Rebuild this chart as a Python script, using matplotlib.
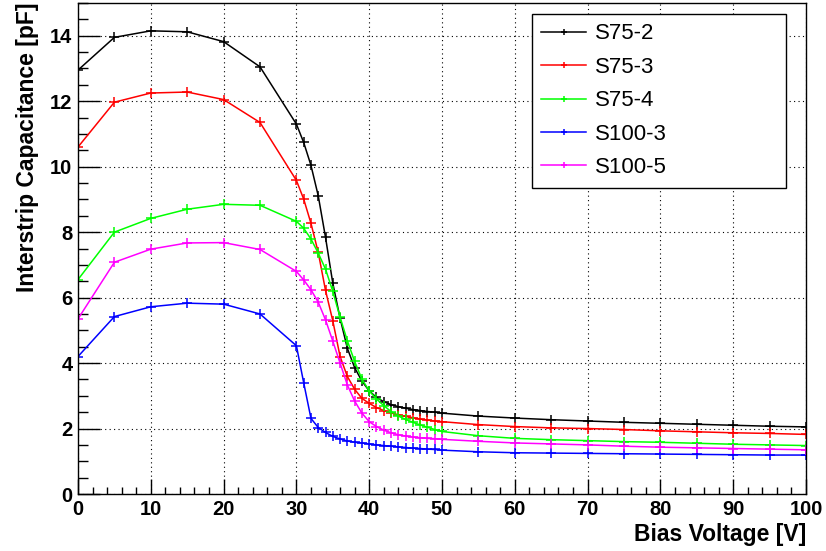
import numpy as np
import matplotlib
matplotlib.use('Agg')
import matplotlib.pyplot as plt
from matplotlib.ticker import MultipleLocator

plt.rcParams['font.family'] = ['Liberation Sans', 'DejaVu Sans']

# bias voltage points [V]
volts = [0, 5, 10, 15, 20, 25, 30, 31, 32, 33, 34, 35, 36, 37, 38, 39, 40,
         41, 42, 43, 44, 45, 46, 47, 48, 49, 50,
         55, 60, 65, 70, 75, 80, 85, 90, 95, 100]

s75_2 = [12.95, 13.95, 14.15, 14.12, 13.82, 13.05, 11.3, 10.74, 10.04, 9.11, 7.84, 6.44,
         5.37, 4.45, 3.86, 3.45, 3.15, 2.95, 2.82, 2.73, 2.67, 2.62, 2.58, 2.55, 2.52, 2.50,
         2.47, 2.38, 2.32, 2.27, 2.23, 2.19, 2.16, 2.13, 2.10, 2.07, 2.05]
s75_3 = [10.6, 11.97, 12.25, 12.28, 12.05, 11.35, 9.58, 9.01, 8.27, 7.38, 6.22, 5.29,
         4.20, 3.59, 3.20, 2.92, 2.77, 2.64, 2.55, 2.48, 2.42, 2.37, 2.33, 2.29, 2.26, 2.23,
         2.21, 2.12, 2.06, 2.02, 2.00, 1.97, 1.93, 1.90, 1.87, 1.85, 1.82]
s75_4 = [6.55, 8.0, 8.42, 8.7, 8.85, 8.82, 8.33, 8.12, 7.79, 7.36, 6.87, 6.19,
         5.40, 4.68, 4.05, 3.51, 3.15, 2.90, 2.70, 2.52, 2.38, 2.28, 2.19, 2.11, 2.04, 1.97,
         1.91, 1.78, 1.70, 1.66, 1.63, 1.60, 1.58, 1.55, 1.52, 1.50, 1.48]
s100_3 = [4.2, 5.42, 5.72, 5.83, 5.80, 5.50, 4.53, 3.40, 2.31, 2.03, 1.88, 1.76,
          1.68, 1.62, 1.58, 1.56, 1.53, 1.50, 1.48, 1.46, 1.44, 1.42, 1.40, 1.39, 1.37, 1.36,
          1.34, 1.29, 1.26, 1.25, 1.24, 1.23, 1.22, 1.21, 1.20, 1.19, 1.19]
s100_5 = [5.35, 7.08, 7.48, 7.67, 7.68, 7.47, 6.80, 6.54, 6.24, 5.86, 5.32, 4.67,
          4.00, 3.33, 2.84, 2.47, 2.21, 2.06, 1.95, 1.87, 1.81, 1.77, 1.74, 1.72, 1.70, 1.69,
          1.67, 1.61, 1.56, 1.53, 1.50, 1.46, 1.43, 1.41, 1.39, 1.37, 1.35]

labels = ['S75-2', 'S75-3', 'S75-4', 'S100-3', 'S100-5']
colors = ['#000000', '#ff0000', '#00ff00', '#0000ff', '#ff00ff']
series = [s75_2, s75_3, s75_4, s100_3, s100_5]

fig = plt.figure(figsize=(8.26, 5.51), dpi=100)
ax = fig.add_axes([78/826, 57/551, 728/826, 491/551])

for y, c, lab in zip(series, colors, labels):
    ax.plot(volts, y, color=c, lw=1.1, marker='+', ms=6.5, mew=1.1, label=lab)

ax.set_xlim(0, 100)
ax.set_ylim(0, 15)
ax.xaxis.set_major_locator(MultipleLocator(10))
ax.xaxis.set_minor_locator(MultipleLocator(2))
ax.yaxis.set_major_locator(MultipleLocator(2))
ax.yaxis.set_minor_locator(MultipleLocator(0.5))
ax.tick_params(which='major', axis='x', direction='in', length=11, width=1, pad=4)
ax.tick_params(which='minor', axis='x', direction='in', length=5, width=1)
ax.tick_params(which='major', axis='y', direction='in', length=16, width=1, pad=4)
ax.tick_params(which='minor', axis='y', direction='in', length=7.5, width=1)
ax.tick_params(labelsize=14.5)
for t in ax.get_xticklabels() + ax.get_yticklabels():
    t.set_fontweight('bold')
for s in ax.spines.values():
    s.set_linewidth(1.0)

ax.grid(True, which='major', color='black', lw=0.8, linestyle=(0, (1, 3)))

ax.set_xlabel('Bias Voltage [V]', fontsize=16.5, fontweight='bold', loc='right', labelpad=3)
ax.set_ylabel('Interstrip Capacitance [pF]', fontsize=16.5, fontweight='bold', loc='top', labelpad=8)

leg = ax.legend(loc='upper left', bbox_to_anchor=(0.6236, 0.6273, 0.349, 0.350), mode='expand',
                fontsize=16, numpoints=1, fancybox=False, framealpha=1, edgecolor='black',
                handlelength=2.0, handletextpad=0.4, labelspacing=0.56, borderpad=0.42,
                borderaxespad=0)
leg.get_frame().set_linewidth(1.0)
for h in leg.legend_handles:
    h.set_markersize(5)

fig.savefig('out.png', dpi=100)
